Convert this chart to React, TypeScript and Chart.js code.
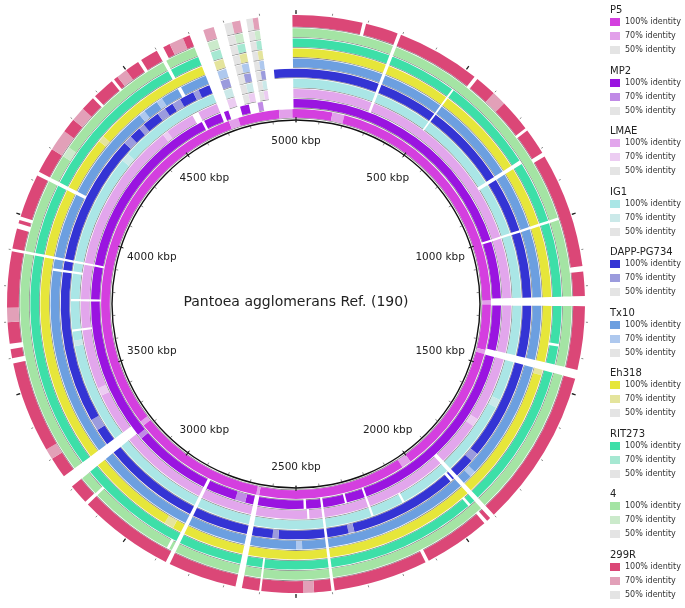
import React, { useEffect, useRef } from 'react';
import { Chart, registerables } from 'chart.js';

Chart.register(...registerables);

// ---------------- data ----------------
const genomeLengthKbp = 5000;
const majorTickKbp = [500, 1000, 1500, 2000, 2500, 3000, 3500, 4000, 4500, 5000];
const majorTickLabels = ['500 kbp', '1000 kbp', '1500 kbp', '2000 kbp', '2500 kbp', '3000 kbp', '3500 kbp', '4000 kbp', '4500 kbp', '5000 kbp'];
const minorTickStepKbp = 100;
const referenceTitle = 'Pantoea agglomerans Ref. (190)';

// rings from inner to outer
const strainNames = ['P5', 'MP2', 'LMAE', 'IG1', 'DAPP-PG734', 'Tx10', 'Eh318', 'RIT273', '4', '299R'];
const identityLabels = ['100% identity', '70% identity', '50% identity'];
const colors100 = ['#d43fdf', '#9a14e0', '#e2a6ec', '#aae6e6', '#3434d4', '#6c9fe0', '#e6e63a', '#3ddfa8', '#a4e4a4', '#db4777'];
const colors70 = ['#e2a0ea', '#c08ae6', '#ecccf2', '#cbe9e9', '#9b9bdd', '#aec8ee', '#e4e49c', '#a6e8d2', '#cbeacb', '#e2a0b8'];
const colors50 = ['#e4e4e4', '#e4e4e4', '#e4e4e4', '#e4e4e4', '#e4e4e4', '#e4e4e4', '#e4e4e4', '#e4e4e4', '#e4e4e4', '#e4e4e4'];

// regions shared by several rings: [startKbp, endKbp, identity, innermostRing, outermostRing]
const sharedRegions = [
  [4920, 4990, 0, 1, 9],
  [4700, 4714, 0, 1, 9],
  [4714, 4740, 0, 2, 9],
  [4740, 4770, 70, 2, 9],
  [4770, 4800, 0, 2, 9],
  [4800, 4822, 50, 2, 9],
  [4822, 4845, 70, 2, 9],
  [4845, 4862, 0, 2, 9],
  [4862, 4880, 50, 2, 9],
  [4880, 4895, 70, 2, 9],
  [4895, 4920, 0, 2, 9],
  [1228, 1256, 0, 1, 9],
  [1433, 1458, 0, 1, 9],
  [996, 1004, 0, 1, 8],
  [1900, 1914, 0, 2, 9],
  [2650, 2668, 0, 1, 9],
  [2393, 2402, 0, 1, 9],
  [3206, 3242, 0, 2, 9],
  [2860, 2872, 0, 1, 9],
  [3896, 3904, 0, 1, 9],
  [4117, 4128, 0, 5, 9],
  [796, 808, 0, 3, 7],
  [286, 296, 0, 2, 9],
  [500, 506, 0, 3, 7],
  [2596, 2602, 0, 7, 9],
  [2220, 2228, 0, 1, 3],
  [3858, 3866, 0, 3, 5],
  [3760, 3768, 0, 1, 3],
  [3652, 3660, 0, 2, 3],
];

// ring-specific regions: [startKbp, endKbp, identity]
const p5Regions = [[150, 200, 70], [1236, 1252, 70], [1440, 1456, 70], [2000, 2040, 70], [2652, 2664, 70], [3215, 3235, 70], [4930, 4985, 70], [4720, 4760, 70]];
const mp2Regions = [[4732, 4780, 0], [4815, 4850, 0], [4850, 4870, 70], [4870, 4920, 0], [2300, 2308, 0], [2460, 2470, 0], [4620, 4630, 0], [3180, 3200, 70], [2700, 2740, 70]];
const lmaeRegions = [[4600, 4625, 0], [4470, 4490, 70], [2450, 2458, 0], [1700, 1730, 70], [3400, 3430, 70]];
const ig1Regions = [[4300, 4330, 70], [3600, 3620, 70], [2100, 2108, 0], [1600, 1630, 70]];
const dappRegions = [[4925, 4990, 100], [4350, 4380, 70], [4420, 4440, 70], [4500, 4530, 70], [4560, 4590, 70], [4640, 4660, 70], [2300, 2320, 70], [2560, 2580, 70], [1800, 1830, 70], [3300, 3340, 70], [1920, 1930, 0]];
const tx10Regions = [[4450, 4470, 70], [4520, 4540, 70], [1850, 1870, 70], [2480, 2500, 70], [4600, 4612, 0]];
const eh318Regions = [[1458, 1475, 70], [4300, 4320, 70], [2900, 2930, 70]];
const rit273Regions = [[1370, 1378, 0], [1930, 1938, 0], [4600, 4610, 0]];
const s4Regions = [[4600, 4610, 0], [3140, 3148, 0], [2880, 2888, 0], [4200, 4230, 70]];
const r299Regions = [[185, 195, 0], [530, 540, 0], [730, 738, 0], [812, 824, 0], [1145, 1160, 0], [1925, 1935, 0], [2120, 2130, 0], [3140, 3150, 0], [3585, 3600, 0], [3625, 3640, 0], [3960, 3975, 0], [3985, 3995, 0], [4380, 4388, 0], [4450, 4458, 0], [4540, 4550, 0], [4600, 4620, 0], [4200, 4260, 70], [4300, 4340, 70], [4470, 4500, 70], [4640, 4680, 70], [3700, 3740, 70], [3300, 3330, 70], [600, 640, 70], [2450, 2480, 70]];
const ringRegions = [p5Regions, mp2Regions, lmaeRegions, ig1Regions, dappRegions, tx10Regions, eh318Regions, rit273Regions, s4Regions, r299Regions];

// ---------------- helpers ----------------
function buildRing(i: number) {
  const lv: number[] = new Array(genomeLengthKbp).fill(100);
  for (const [s, e, l, a, b] of sharedRegions) {
    if (i >= a && i <= b) for (let k = s; k < e; k++) lv[k] = l;
  }
  for (const [s, e, l] of ringRegions[i]) for (let k = s; k < e; k++) lv[k] = l;
  const lengths: number[] = [];
  const colors: string[] = [];
  const edgeColors: string[] = [];
  let start = 0;
  for (let k = 1; k <= genomeLengthKbp; k++) {
    if (k === genomeLengthKbp || lv[k] !== lv[start]) {
      const l = lv[start];
      lengths.push(k - start);
      colors.push(l === 100 ? colors100[i] : l === 70 ? colors70[i] : l === 50 ? colors50[i] : 'rgba(255,255,255,0)');
      edgeColors.push(l === 0 ? 'rgba(255,255,255,0)' : 'rgba(85,85,85,0.7)');
      start = k;
    }
  }
  return { lengths, colors, edgeColors };
}

const FONT = '"DejaVu Sans", Verdana, sans-serif';

const scalePlugin = {
  id: 'genomeScale',
  afterDatasetsDraw(chart: any) {
    const ctx = chart.ctx as CanvasRenderingContext2D;
    const n = chart.data.datasets.length;
    const refArc = chart.getDatasetMeta(n - 1).data[0] as any;
    const outerArc = chart.getDatasetMeta(0).data[0] as any;
    if (!refArc || !outerArc) return;
    const cx = refArc.x, cy = refArc.y;
    const rc = (refArc.innerRadius + refArc.outerRadius) / 2;
    const ro = outerArc.outerRadius;
    const ang = (kbp: number) => (kbp / genomeLengthKbp) * Math.PI * 2 - Math.PI / 2;
    ctx.save();
    for (let k = 0; k < genomeLengthKbp; k += minorTickStepKbp) {
      const a = ang(k);
      const c = Math.cos(a), s = Math.sin(a);
      ctx.strokeStyle = 'rgba(60,60,60,0.6)';
      ctx.lineWidth = 1;
      ctx.beginPath();
      ctx.moveTo(cx + c * (rc - 3), cy + s * (rc - 3));
      ctx.lineTo(cx + c * rc, cy + s * rc);
      ctx.stroke();
      ctx.beginPath();
      ctx.moveTo(cx + c * (ro + 1.5), cy + s * (ro + 1.5));
      ctx.lineTo(cx + c * (ro + 3.5), cy + s * (ro + 3.5));
      ctx.stroke();
    }
    ctx.font = `10.5px ${FONT}`;
    ctx.textAlign = 'center';
    ctx.textBaseline = 'middle';
    majorTickKbp.forEach((k, idx) => {
      const a = ang(k);
      const c = Math.cos(a), s = Math.sin(a);
      ctx.strokeStyle = '#222';
      ctx.lineWidth = 1.2;
      ctx.beginPath();
      ctx.moveTo(cx + c * (rc - 2), cy + s * (rc - 2));
      ctx.lineTo(cx + c * (rc + 3), cy + s * (rc + 3));
      ctx.stroke();
      ctx.beginPath();
      ctx.moveTo(cx + c * (ro + 1), cy + s * (ro + 1));
      ctx.lineTo(cx + c * (ro + 5), cy + s * (ro + 5));
      ctx.stroke();
      const rl = rc - 21 - 12 * Math.abs(c);
      ctx.fillStyle = '#222';
      ctx.fillText(majorTickLabels[idx], cx + c * rl, cy + s * rl);
    });
    ctx.font = `14px ${FONT}`;
    ctx.fillStyle = '#222';
    ctx.fillText(referenceTitle, cx, cy - 2);
    ctx.restore();
  },
};

// ---------------- component ----------------
export default function App() {
  const ref = useRef<HTMLCanvasElement>(null);
  useEffect(() => {
    const canvas = ref.current;
    if (!canvas) return;
    const datasets: any[] = [];
    for (let i = strainNames.length - 1; i >= 0; i--) {
      const ring = buildRing(i);
      datasets.push({ label: strainNames[i], data: ring.lengths, backgroundColor: ring.colors, borderWidth: 0, weight: i === strainNames.length - 1 ? 11.8 : 8.6 });
      datasets.push({ label: strainNames[i] + ' edge', data: ring.lengths, backgroundColor: ring.edgeColors, borderWidth: 0, weight: 0.8 });
      datasets.push({ label: 'spacer', data: [1], backgroundColor: ['rgba(255,255,255,0)'], borderWidth: 0, weight: i === 0 ? 0.8 : 0.7 });
    }
    datasets.push({ label: referenceTitle, data: [1], backgroundColor: ['#111111'], borderWidth: 0, weight: 1.4 });
    const chart = new Chart(canvas, {
      type: 'doughnut',
      data: { labels: [], datasets },
      options: {
        responsive: false,
        animation: false,
        devicePixelRatio: 1,
        cutout: 183.3,
        events: [],
        layout: { padding: { left: 7, top: 15, right: 100, bottom: 15 } },
        plugins: { legend: { display: false }, tooltip: { enabled: false }, title: { display: false } },
      } as any,
      plugins: [scalePlugin],
    });
    return () => chart.destroy();
  }, []);

  return (
    <div style={{ position: 'fixed', left: 0, top: 0, width: 685, height: 608, background: '#fff', overflow: 'hidden' }}>
      <canvas ref={ref} width={685} height={608} style={{ position: 'absolute', left: 0, top: 0, width: 685, height: 608 }} />
      {strainNames.map((name, i) => {
        const g = 10 + i * 60.5;
        const sw = [colors100[i], colors70[i], colors50[i]];
        return (
          <div key={name}>
            <div style={{ position: 'absolute', left: 610, top: g - 6, font: `10px ${FONT}`, lineHeight: '12px', color: '#222', whiteSpace: 'nowrap' }}>{name}</div>
            {identityLabels.map((t, j) => (
              <div key={t} style={{ position: 'absolute', left: 610, top: g + 12 + j * 14 - 5, height: 10, whiteSpace: 'nowrap' }}>
                <div style={{ position: 'absolute', left: 0, top: 1, width: 10, height: 8, background: sw[j] }} />
                <div style={{ position: 'absolute', left: 15, top: 0, font: `8px ${FONT}`, lineHeight: '10px', color: '#333' }}>{t}</div>
              </div>
            ))}
          </div>
        );
      })}
    </div>
  );
}
